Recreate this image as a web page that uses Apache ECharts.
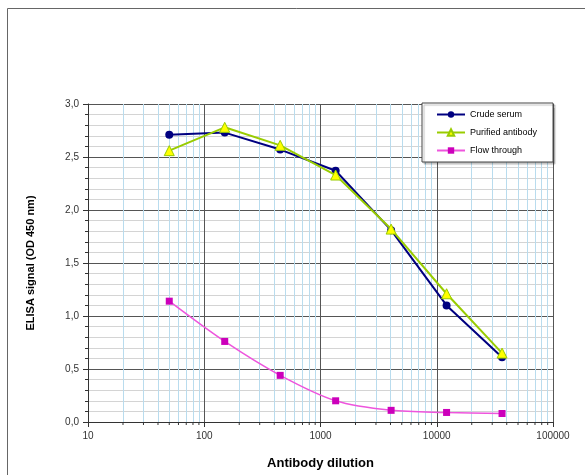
<!DOCTYPE html>
<html><head><meta charset="utf-8">
<script src="https://cdn.jsdelivr.net/npm/echarts@6/dist/echarts.min.js"></script>
<style>html,body{margin:0;padding:0;background:#fff}#c{width:585px;height:475px}</style>
</head><body><div id="c"></div>
<script>
const dilutions = [50, 150, 450, 1350, 4050, 12150, 36450];
const crudeSerum = [2.71, 2.73, 2.57, 2.37, 1.81, 1.10, 0.61];
const purifiedAntibody = [2.56, 2.78, 2.61, 2.33, 1.82, 1.21, 0.65];
const flowThrough = [1.14, 0.76, 0.44, 0.20, 0.11, 0.09, 0.08];
const xTickLabels = [10, 100, 1000, 10000, 100000];
const minorXValues = [];
for (let d = 10; d < 100000; d *= 10) { for (let k = 2; k <= 9; k++) minorXValues.push(d * k); }

const chart = echarts.init(document.getElementById('c'), null, {renderer: 'canvas'});
const font = 'Liberation Sans, Arial, sans-serif';
function pairs(v) { return dilutions.map((d, i) => [d, v[i]]); }

chart.setOption({
  animation: false,
  backgroundColor: '#fff',
  textStyle: {fontFamily: font},
  graphic: [{
    type: 'rect', shape: {x: 7.5, y: 8.5, width: 620, height: 520},
    style: {fill: 'none', stroke: '#666', lineWidth: 1}, silent: true, z: -10
  }],
  grid: {left: 88, right: 32, top: 104, bottom: 53, containLabel: false},
  legend: {
    orient: 'vertical', left: 422, top: 103,
    backgroundColor: '#fff', borderColor: '#444', borderWidth: 1,
    padding: [7, 16, 7, 14], itemGap: 9, itemWidth: 28, itemHeight: 8,
    textStyle: {fontFamily: font, fontSize: 9, color: '#000'},
    shadowColor: 'rgba(0,0,0,0.25)', shadowOffsetX: 2, shadowOffsetY: 2, shadowBlur: 1,
    data: ['Crude serum', 'Purified antibody', 'Flow through']
  },
  xAxis: {
    type: 'log', logBase: 10, min: 10, max: 100000,
    name: 'Antibody dilution', nameLocation: 'middle', nameGap: 35,
    nameTextStyle: {fontFamily: font, fontSize: 13, fontWeight: 'bold', color: '#000'},
    axisLine: {show: true, onZero: false, lineStyle: {color: '#333'}},
    axisTick: {show: true, length: 5, lineStyle: {color: '#333'}},
    minorTick: {show: false},
    axisLabel: {fontFamily: font, fontSize: 10, color: '#333', margin: 9,
      formatter: v => xTickLabels.includes(Math.round(v)) ? String(Math.round(v)) : ''},
    splitLine: {show: true, lineStyle: {color: '#555', width: 1}},
    minorSplitLine: {show: false}
  },
  yAxis: {
    type: 'value', min: 0, max: 3, interval: 0.5,
    name: 'ELISA signal (OD 450 nm)', nameLocation: 'middle', nameGap: 52,
    nameTextStyle: {fontFamily: font, fontSize: 11, fontWeight: 'bold', color: '#000'},
    axisLine: {show: true, lineStyle: {color: '#333'}},
    axisTick: {show: true, length: 5, lineStyle: {color: '#333'}},
    minorTick: {show: true, splitNumber: 5, length: 3, lineStyle: {color: '#333'}},
    axisLabel: {fontFamily: font, fontSize: 10, color: '#333', margin: 9,
      formatter: v => v.toFixed(1).replace('.', ',')},
    splitLine: {show: true, lineStyle: {color: '#555', width: 1}},
    minorSplitLine: {show: true, lineStyle: {color: '#d4d4d4', width: 1}}
  },
  series: [
    {
      name: 'minorGrid', type: 'line', data: [], silent: true, z: 0,
      markLine: {silent: true, z: 0, symbol: 'none', label: {show: false},
        emphasis: {disabled: true},
        lineStyle: {color: '#b9dcee', type: 'solid', width: 1},
        data: minorXValues.map(v => ({xAxis: v}))}
    },
    {
      name: 'minorTicks', type: 'custom', silent: true, clip: false, z: 1,
      data: minorXValues.map(v => [v, 0]),
      renderItem: function (params, api) {
        const p = api.coord([api.value(0), 0]);
        return {type: 'line', shape: {x1: p[0], y1: p[1], x2: p[0], y2: p[1] + 3},
          style: {stroke: '#333', lineWidth: 1}};
      }
    },
    {
      name: 'Crude serum', type: 'line', data: pairs(crudeSerum), z: 5,
      symbol: 'circle', symbolSize: 8,
      lineStyle: {color: '#000080', width: 2},
      itemStyle: {color: '#000080'}
    },
    {
      name: 'Purified antibody', type: 'line', data: pairs(purifiedAntibody), z: 6,
      symbol: 'triangle', symbolSize: 10,
      lineStyle: {color: '#99cc00', width: 2},
      itemStyle: {color: '#ffff00', borderColor: '#99cc00', borderWidth: 1}
    },
    {
      name: 'Flow through', type: 'line', data: pairs(flowThrough), z: 4,
      symbol: 'rect', symbolSize: 7, smooth: 0.3,
      lineStyle: {color: '#ee55dd', width: 1.5},
      itemStyle: {color: '#cc00bb'}
    }
  ]
});
</script></body></html>
